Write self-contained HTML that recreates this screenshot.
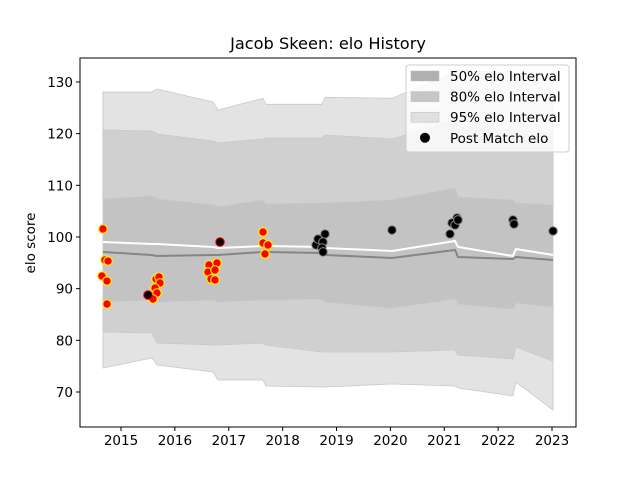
<!DOCTYPE html>
<html><head><meta charset="utf-8"><style>
body{margin:0;background:#fff;font-family:"DejaVu Sans","Liberation Sans",sans-serif}
svg text{font-family:"DejaVu Sans","Liberation Sans",sans-serif}
</style></head><body>
<svg id="c" width="640" height="480" viewBox="0 0 640 480">
<rect width="640" height="480" fill="#fff"/>
<g id="plot"></g>
<text x="328" y="49" text-anchor="middle" font-size="16.2" fill="#000">Jacob Skeen: elo History</text>
<text transform="translate(35,243) rotate(-90)" text-anchor="middle" font-size="13.5">elo score</text>
</svg>
<script>
const bandYears=[2014.666,2015.575,2015.668,2016.708,2016.80,2017.636,2017.69,2018.73,2018.787,2020.03,2021.20,2021.255,2022.276,2022.33,2023.019];
const hi95=[128.06,128.06,128.64,126.13,124.58,126.84,125.68,125.68,127.03,126.84,131.93,132.32,131.74,131.74,130.97];
const hi80=[120.71,120.51,119.93,118.58,118.19,118.97,119.16,119.16,119.74,118.97,122.64,121.48,120.71,120.71,119.93];
const hi50=[107.35,107.93,107.35,106.19,105.81,107.16,106.39,106.58,106.58,107.16,109.48,107.74,107.16,106.58,106.19];
const lo50=[87.42,87.81,87.42,87.81,87.42,87.81,87.81,88.00,87.42,86.26,88.00,87.03,86.06,87.23,86.45];
const lo80=[81.61,81.42,79.48,79.10,79.10,79.48,79.10,77.74,77.74,77.74,78.13,77.16,76.39,78.71,76.00];
const lo95=[74.64,76.58,75.23,73.87,72.32,72.32,71.16,70.97,70.97,71.55,71.16,70.77,69.23,71.94,66.52];
const medianElo=[97.10,96.52,96.32,96.52,96.52,97.10,97.10,96.90,96.52,95.94,97.48,96.13,95.74,96.13,95.55];
const meanElo=[99.03,98.65,98.65,98.06,97.87,98.26,98.26,98.06,97.87,97.29,99.23,98.06,96.32,97.68,96.52];
const redYears=[2014.666,2014.703,2014.759,2014.647,2014.740,2014.740,2015.650,2015.705,2015.724,2015.631,2015.668,2015.594,2016.633,2016.782,2016.615,2016.745,2016.671,2016.745,2017.636,2017.636,2017.729,2017.673];
const redElo=[101.55,95.55,95.35,92.45,91.48,87.03,91.87,92.26,91.10,90.13,89.16,88.00,94.58,94.97,93.22,93.61,91.87,91.68,100.97,98.84,98.45,96.71];
const blackYears=[2015.501,2016.838,2018.62,2018.657,2018.787,2018.750,2018.731,2018.750,2020.030,2021.237,2021.144,2021.200,2021.107,2021.255,2022.276,2022.295,2023.019];
const blackElo=[88.77,99.03,98.45,99.61,100.58,99.03,97.87,97.10,101.35,103.68,102.71,102.32,100.58,103.3,103.3,102.5,101.16];
const xTicks=[2015,2016,2017,2018,2019,2020,2021,2022,2023];
const yTicks=[70,80,90,100,110,120,130];

const L=80,R=576,T=58,B=427;
const X=v=>121+(v-2015)*53.875;
const Y=v=>392-(v-70)*5.167;
const NS='http://www.w3.org/2000/svg';
const g=document.getElementById('plot');
function mk(t,a){const e=document.createElementNS(NS,t);for(const k in a)e.setAttribute(k,a[k]);g.appendChild(e);return e;}
function band(lo,hi,fill,name){
  let d='M'+bandYears.map((y,i)=>X(y)+','+Y(hi[i])).join(' L');
  d+=' L'+bandYears.map((y,i)=>X(y)+','+Y(lo[i])).reverse().join(' L')+'Z';
  const p=mk('path',{d:d,fill:fill,stroke:'#c8c8c8','stroke-width':0.8});
  
  
}
band(lo95,hi95,'#e3e3e3','band-95');
band(lo80,hi80,'#d0d0d0','band-80');
band(lo50,hi50,'#c3c3c3','band-50');
function line(vals,stroke,name){
  const p=mk('polyline',{points:bandYears.map((y,i)=>X(y)+','+Y(vals[i])).join(' '),fill:'none',stroke:stroke,'stroke-width':2});
  
  
}
line(medianElo,'#858585','median-line');
line(meanElo,'#ffffff','mean-line');
redYears.forEach((y,i)=>{
  const c=mk('circle',{cx:X(y),cy:Y(redElo[i]),r:4.3,fill:'#ff0000',stroke:'#ffee00','stroke-width':1.2});
  
  
});
blackYears.forEach((y,i)=>{
  const c=mk('circle',{cx:X(y),cy:Y(blackElo[i]),r:4.3,fill:'#000',stroke:i<2?'#ff0000':'#888','stroke-width':1});
  
  
});
const fr=mk('rect',{x:L,y:T,width:R-L,height:B-T,fill:'none',stroke:'#000','stroke-width':1});


xTicks.forEach(t=>{
  mk('line',{x1:X(t),x2:X(t),y1:B,y2:B+4,stroke:'#000'});
  const tx=mk('text',{x:X(t),y:B+18,'text-anchor':'middle','font-size':13.5});
  tx.textContent=t;
  
  
});
yTicks.forEach(t=>{
  mk('line',{x1:L-4,x2:L,y1:Y(t),y2:Y(t),stroke:'#000'});
  const tx=mk('text',{x:L-7,y:Y(t)+5,'text-anchor':'end','font-size':13.5});
  tx.textContent=t;
  
  
});
const lg=mk('rect',{x:406,y:65,width:163,height:87,rx:3,fill:'#fff','fill-opacity':0.8,stroke:'#ccc'});


const items=[['50% elo Interval','#b0b0b0'],['80% elo Interval','#c6c6c6'],['95% elo Interval','#e0e0e0'],['Post Match elo',null]];
items.forEach((it,i)=>{
  const yy=76+i*20.6;
  if(it[1]){mk('rect',{x:411,y:yy-5,width:28,height:10,fill:it[1],stroke:'#bbb','stroke-width':0.5});}
  else{mk('circle',{cx:425,cy:yy,r:5,fill:'#000'});}
  const tx=mk('text',{x:450,y:yy+5,'font-size':13.5});
  tx.textContent=it[0];
  
  
});
</script>
</body></html>
